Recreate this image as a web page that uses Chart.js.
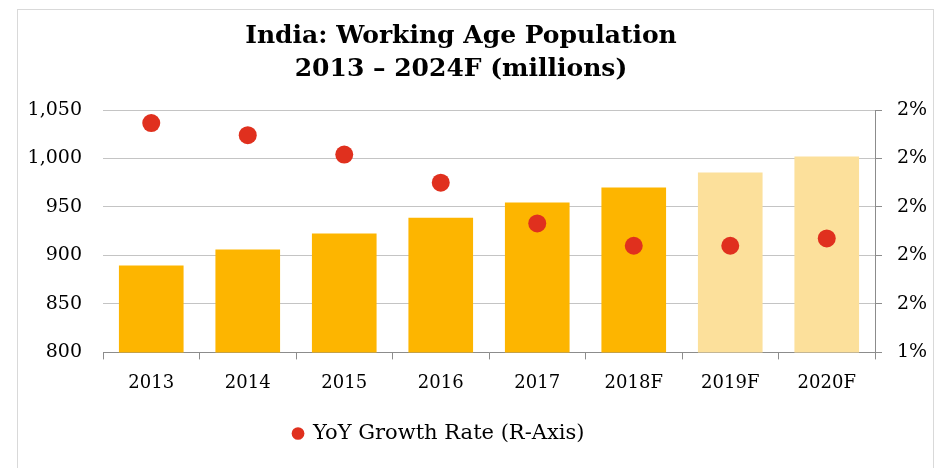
<!DOCTYPE html>
<html><head><meta charset="utf-8">
<script src="https://cdn.jsdelivr.net/npm/chart.js@4.4.1/dist/chart.umd.min.js"></script>
<style>
html,body{margin:0;padding:0;background:#fff;width:948px;height:468px;overflow:hidden;}
#frame{position:absolute;left:17px;top:9px;width:917px;height:462px;border:1px solid #d9d9d9;box-sizing:border-box;}
#wrap{position:absolute;left:-8px;top:0;width:946px;height:468px;}
</style></head>
<body>
<div id="frame"></div>
<div id="wrap"><canvas id="c" width="946" height="468"></canvas></div>
<script>
const categories = ['2013','2014','2015','2016','2017','2018F','2019F','2020F'];
const population = [889.5, 906, 922.5, 939, 954.5, 970, 985.5, 1002];
const growthRate = [1.873, 1.848, 1.808, 1.750, 1.666, 1.620, 1.620, 1.635];
const forecast = [false,false,false,false,false,false,true,true];
const leftTicks = [800, 850, 900, 950, 1000, 1050];
const titleLines = ['India: Working Age Population', '2013 \u2013 2024F (millions)'];
const legendLabel = 'YoY Growth Rate (R-Axis)';

const FONT = "'DejaVu Serif', Georgia, serif";
const barColors = forecast.map(f => f ? '#FCE09B' : '#FDB500');

// shift the centred title and legend blocks to match the reference's off-centre placement
const blockShift = {
  id: 'blockShift',
  afterLayout(chart) {
    const lg = chart.legend;
    if (lg) { lg.left -= 30; lg.right -= 30; }
    const tb = chart.titleBlock;
    if (tb) { tb.left -= 8; tb.right -= 8; }
  }
};

new Chart(document.getElementById('c'), {
  plugins: [blockShift],
  data: {
    labels: categories,
    datasets: [
      {
        type: 'line',
        label: legendLabel,
        data: growthRate,
        yAxisID: 'y1',
        showLine: false,
        pointRadius: 9,
        pointHoverRadius: 9,
        pointBackgroundColor: '#E0301E',
        pointBorderColor: '#E0301E',
        backgroundColor: '#E0301E',
        borderColor: '#E0301E',
        pointBorderWidth: 0,
        order: 0
      },
      {
        type: 'bar',
        label: 'Population',
        data: population,
        yAxisID: 'y',
        backgroundColor: barColors,
        categoryPercentage: 0.67,
        barPercentage: 1.0,
        order: 1
      }
    ]
  },
  options: {
    responsive: false,
    animation: false,
    layout: { padding: { left: 8, right: 0, top: 0, bottom: 14 } },
    plugins: {
      tooltip: { enabled: false },
      title: {
        display: true,
        text: titleLines,
        color: '#000',
        font: { family: FONT, size: 25, weight: 'bold', lineHeight: 1.32 },
        padding: { top: 20, bottom: 24 }
      },
      legend: {
        position: 'bottom',
        labels: {
          filter: item => item.text === legendLabel,
          usePointStyle: true,
          pointStyle: 'circle',
          boxWidth: 9,
          boxHeight: 9,
          color: '#000',
          font: { family: FONT, size: 21 },
          padding: 16
        }
      }
    },
    scales: {
      x: {
        offset: true,
        grid: { display: true, offset: true, drawOnChartArea: false, drawTicks: true, tickLength: 7, color: '#8c8c8c' },
        border: { display: true, color: '#8c8c8c', width: 1 },
        ticks: { color: '#000', font: { family: FONT, size: 18 }, padding: 13 }
      },
      y: {
        position: 'left',
        min: 800, max: 1050,
        afterBuildTicks: s => { s.ticks = leftTicks.map(v => ({ value: v })); },
        afterFit: s => { s.width = 103; },
        grid: { color: '#c4c4c4', lineWidth: 1, drawTicks: false },
        border: { display: false },
        ticks: {
          color: '#000', font: { family: FONT, size: 19 }, padding: 21,
          callback: v => v.toLocaleString('en-US')
        }
      },
      y1: {
        position: 'right',
        min: 1.4, max: 1.9,
        ticks: {
          stepSize: 0.1,
          color: '#000', font: { family: FONT, size: 19 }, padding: 15,
          callback: v => Math.round(v) + '%'
        },
        afterFit: s => { s.width = 63; },
        grid: { drawOnChartArea: false, drawTicks: true, tickLength: 7, color: '#8c8c8c' },
        border: { display: true, color: '#8c8c8c', width: 1 }
      }
    }
  }
});
</script>
</body></html>
